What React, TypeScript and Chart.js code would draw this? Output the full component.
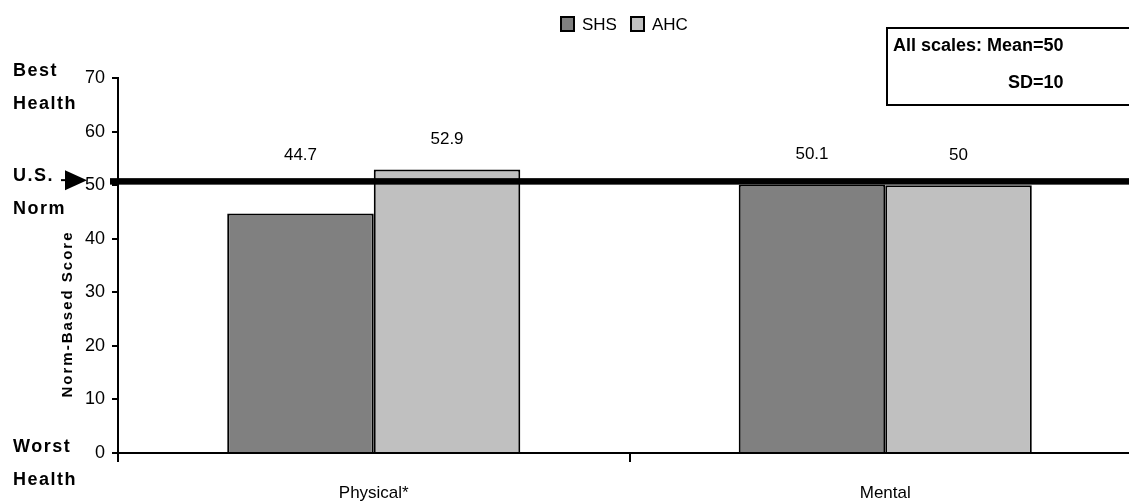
import React, { useEffect, useRef } from "react";
import { Chart, registerables } from "chart.js";

Chart.register(...registerables);

// ---- data ----
const categories = ["Physical*", "Mental"];
const seriesNames = ["SHS", "AHC"];
const shsValues = [44.7, 50.1];
const ahcValues = [52.9, 50];
const seriesColors = ["#808080", "#C0C0C0"];
const yMin = 0;
const yMax = 70;
const yStep = 10;
const normValue = 50;
const yTitle = "Norm-Based Score";
const sideLabels = [
  ["Best", "Health"],
  ["U.S.", "Norm"],
  ["Worst", "Health"],
];
const boxLines = ["All scales: Mean=50", "SD=10"];

const FONT = "'Liberation Sans', Arial, Helvetica, sans-serif";

const overlay = {
  id: "overlay",
  afterDatasetsDraw(chart: any) {
    const ctx = chart.ctx as CanvasRenderingContext2D;
    const y = chart.scales.y;
    const yNorm = y.getPixelForValue(normValue);
    ctx.save();
    // thick norm line
    ctx.fillStyle = "#000";
    ctx.fillRect(110, yNorm - 7, chart.width - 110, 6.5);
    // data labels
    ctx.font = `17px ${FONT}`;
    ctx.textAlign = "center";
    ctx.textBaseline = "middle";
    chart.data.datasets.forEach((ds: any, di: number) => {
      const meta = chart.getDatasetMeta(di);
      meta.data.forEach((bar: any, i: number) => {
        const v = ds.data[i];
        const py = y.getPixelForValue(Math.max(v, normValue)) - 30;
        ctx.fillText(String(v), bar.x, py);
      });
    });
    ctx.restore();
  },
  afterDraw(chart: any) {
    const ctx = chart.ctx as CanvasRenderingContext2D;
    const y = chart.scales.y;
    const yNorm = y.getPixelForValue(normValue);
    ctx.save();
    ctx.fillStyle = "#000";
    ctx.strokeStyle = "#000";

    // arrow pointing to the norm
    const ay = yNorm - 5;
    ctx.lineWidth = 2;
    ctx.beginPath();
    ctx.moveTo(61, ay);
    ctx.lineTo(70, ay);
    ctx.stroke();
    ctx.beginPath();
    ctx.moveTo(65, ay - 10);
    ctx.lineTo(87, ay);
    ctx.lineTo(65, ay + 10);
    ctx.closePath();
    ctx.fill();

    // side labels
    ctx.font = `bold 18px ${FONT}`;
    (ctx as any).letterSpacing = "1.5px";
    ctx.textAlign = "left";
    ctx.textBaseline = "middle";
    const sideY = [
      [71, 104],
      [176, 209],
      [447, 480],
    ];
    sideLabels.forEach((pair, i) => {
      ctx.fillText(pair[0], 13, sideY[i][0]);
      ctx.fillText(pair[1], 13, sideY[i][1]);
    });

    // y axis title
    ctx.save();
    ctx.font = `bold 15px ${FONT}`;
    (ctx as any).letterSpacing = "2px";
    ctx.translate(68, 314);
    ctx.rotate(-Math.PI / 2);
    ctx.textAlign = "center";
    ctx.textBaseline = "middle";
    ctx.fillText(yTitle, 0, 0);
    ctx.restore();

    (ctx as any).letterSpacing = "0px";

    // legend
    ctx.font = `17px ${FONT}`;
    ctx.textBaseline = "middle";
    ctx.textAlign = "left";
    const legendX = [561, 631];
    seriesNames.forEach((name, i) => {
      const x = legendX[i];
      ctx.fillStyle = seriesColors[i];
      ctx.fillRect(x, 17, 13, 14);
      ctx.lineWidth = 2;
      ctx.strokeStyle = "#000";
      ctx.strokeRect(x, 17, 13, 14);
      ctx.fillStyle = "#000";
      ctx.fillText(name, x + 21, 25);
    });

    // info box
    ctx.lineWidth = 2;
    ctx.strokeStyle = "#000";
    ctx.strokeRect(887, 28, chart.width, 77);
    ctx.font = `bold 18px ${FONT}`;
    ctx.fillStyle = "#000";
    ctx.fillText(boxLines[0], 893, 46);
    ctx.fillText(boxLines[1], 1008, 83);

    ctx.restore();
  },
};

export default function App() {
  const canvasRef = useRef<HTMLCanvasElement | null>(null);

  useEffect(() => {
    if (!canvasRef.current) return;
    const chart = new Chart(canvasRef.current, {
      type: "bar",
      data: {
        labels: categories,
        datasets: [
          {
            label: seriesNames[0],
            data: shsValues,
            backgroundColor: seriesColors[0],
            borderColor: "#000",
            borderWidth: 2,
            categoryPercentage: 0.573,
            barPercentage: 1,
          },
          {
            label: seriesNames[1],
            data: ahcValues,
            backgroundColor: seriesColors[1],
            borderColor: "#000",
            borderWidth: 2,
            categoryPercentage: 0.573,
            barPercentage: 1,
          },
        ],
      },
      options: {
        responsive: false,
        animation: false,
        layout: { padding: { top: 78, right: 9, left: 0, bottom: 0 } },
        plugins: {
          legend: { display: false },
          tooltip: { enabled: false },
        },
        scales: {
          x: {
            grid: {
              display: true,
              drawOnChartArea: false,
              drawTicks: true,
              tickLength: 9,
              color: "#000",
              lineWidth: 2,
              offset: true,
            },
            border: { display: true, color: "#000", width: 2 },
            ticks: {
              font: { size: 17, family: FONT },
              color: "#000",
              padding: 21,
              maxRotation: 0,
            },
            afterFit: (s: any) => {
              s.height = 49;
            },
          },
          y: {
            min: yMin,
            max: yMax,
            ticks: {
              stepSize: yStep,
              font: { size: 18, family: FONT },
              color: "#000",
              padding: 7,
            },
            grid: {
              drawOnChartArea: false,
              drawTicks: true,
              tickLength: 6,
              color: "#000",
              lineWidth: 2,
            },
            border: { display: true, color: "#000", width: 2 },
            afterFit: (s: any) => {
              s.width = 118;
            },
          },
        },
      },
      plugins: [overlay],
    });
    return () => chart.destroy();
  }, []);

  return (
    <div
      style={{
        position: "fixed",
        left: 0,
        top: 0,
        width: 1129,
        height: 502,
        overflow: "hidden",
        background: "#fff",
      }}
    >
      <canvas
        ref={canvasRef}
        width={1150}
        height={502}
        style={{ display: "block", width: 1150, height: 502 }}
      />
    </div>
  );
}
